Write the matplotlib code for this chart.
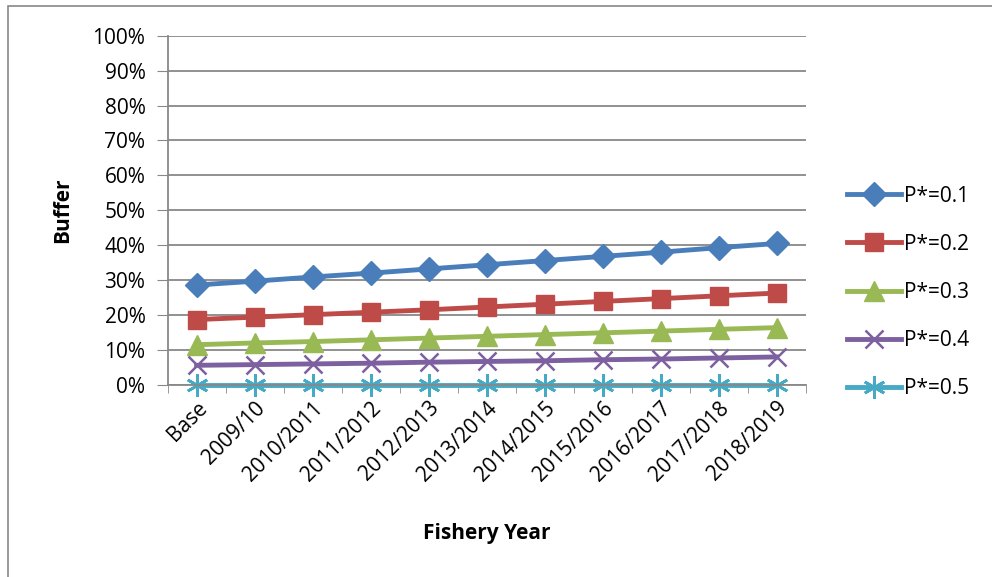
import matplotlib.pyplot as plt
from matplotlib.patches import Rectangle
import numpy as np

plt.rcParams['font.family'] = ['Open Sans', 'DejaVu Sans']

years = ['Base', '2009/10', '2010/2011', '2011/2012', '2012/2013', '2013/2014',
         '2014/2015', '2015/2016', '2016/2017', '2017/2018', '2018/2019']
p01 = [28.6, 29.7, 30.9, 32.0, 33.2, 34.4, 35.6, 36.8, 38.0, 39.3, 40.5]
p02 = [18.7, 19.4, 20.1, 20.8, 21.5, 22.3, 23.1, 23.9, 24.7, 25.5, 26.3]
p03 = [11.5, 12.0, 12.4, 12.9, 13.4, 13.9, 14.4, 14.9, 15.4, 15.9, 16.4]
p04 = [5.6, 5.8, 6.0, 6.2, 6.5, 6.7, 6.9, 7.2, 7.4, 7.7, 8.0]
p05 = [0, 0, 0, 0, 0, 0, 0, 0, 0, 0, 0]

series = [
    ('P*=0.1', p01, '#4a7ebb', 'D', 12),
    ('P*=0.2', p02, '#be4b48', 's', 13),
    ('P*=0.3', p03, '#98b954', '^', 14),
    ('P*=0.4', p04, '#7d60a0', 'x', 13),
    ('P*=0.5', p05, '#46aac5', '*', 16),
]

fig = plt.figure(figsize=(9.92, 5.77), dpi=100)
fig.patches.append(Rectangle((0.008, -0.01), 1.1, 1.0, transform=fig.transFigure,
                             fill=False, edgecolor='#888888', lw=1.2))
ax = fig.add_axes([0.169, 0.333, 0.643, 0.605])

x = np.arange(len(years))
for name, vals, col, mk, ms in series:
    if mk == '*':
        ax.plot(x, vals, color=col, lw=3.5, marker=(6, 2, 0), ms=ms, mew=2,
                label=name, clip_on=False)
    elif mk == 'x':
        ax.plot(x, vals, color=col, lw=3.5, marker='x', ms=ms, mew=1.8,
                label=name, clip_on=False)
    else:
        ax.plot(x, vals, color=col, lw=3.5, marker=mk, ms=ms, mec=col,
                label=name, clip_on=False)

ax.set_xlim(-0.5, len(years) - 0.5)
ax.set_ylim(0, 100)
ax.set_yticks(np.arange(0, 101, 10))
ax.set_yticklabels([f'{v}%' for v in range(0, 101, 10)], fontsize=15)
ax.set_xticks(x)
ax.set_xticklabels(years, rotation=45, ha='right', rotation_mode='anchor', fontsize=15)
ax.set_xticks(np.arange(-0.5, len(years), 1), minor=True)
ax.tick_params(axis='x', which='major', length=0, pad=9)
ax.tick_params(axis='x', which='minor', length=6, color='#888888')
ax.tick_params(axis='y', length=8, color='#888888', pad=8)
ax.grid(axis='y', color='#888888', lw=1.3)
ax.set_axisbelow(True)
for s in ['top', 'right']:
    ax.spines[s].set_visible(False)
for s in ['left', 'bottom']:
    ax.spines[s].set_color('#888888')
    ax.spines[s].set_linewidth(1.3)

ax.set_xlabel('Fishery Year', fontsize=15, fontweight='bold', labelpad=27)
ax.set_ylabel('Buffer', fontsize=15, fontweight='bold', labelpad=14)

ax.legend(loc='center left', bbox_to_anchor=(1.035, 0.265), frameon=False,
          fontsize=15, labelspacing=1.3, handlelength=2.6, handletextpad=0.15)

fig.savefig('out.png', dpi=100)
